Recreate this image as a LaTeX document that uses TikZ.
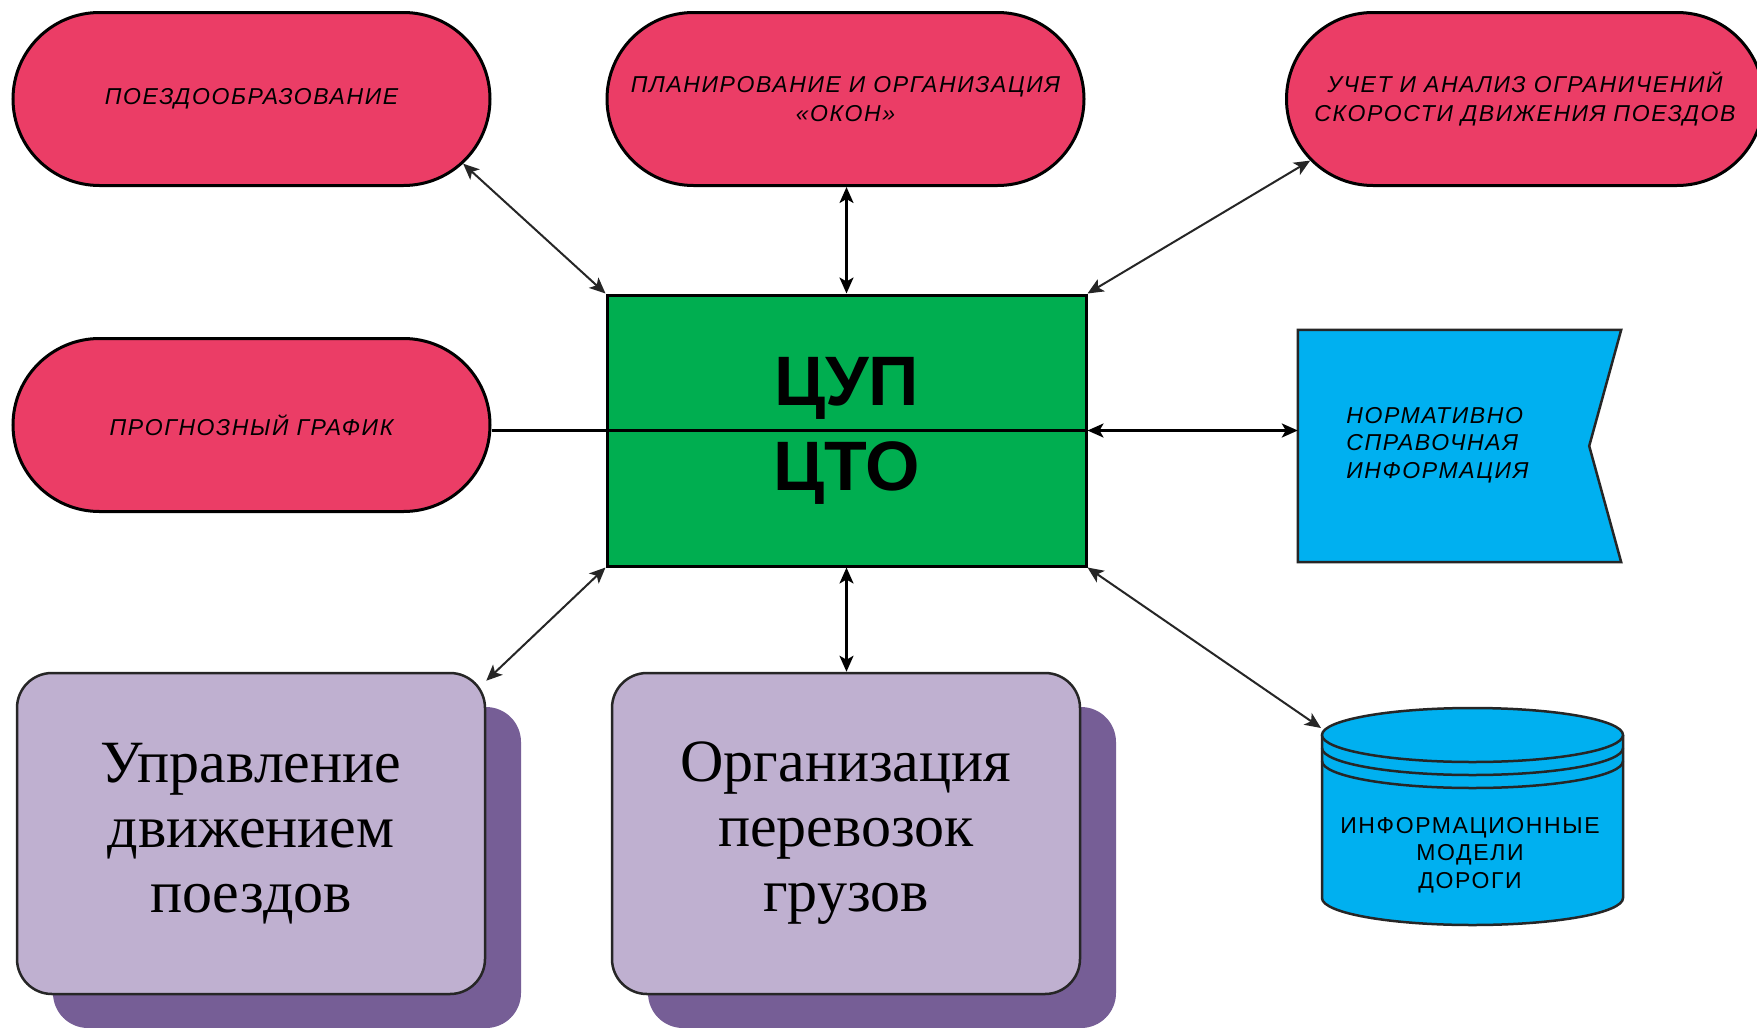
\documentclass[tikz,border=0pt]{standalone}
\usepackage{fontspec}
\setmainfont{Liberation Serif}
\newfontfamily\sanssp[LetterSpace=7]{Liberation Sans}
\newfontfamily\sansplain{Liberation Sans}
\usetikzlibrary{shapes.misc,arrows.meta,shadows}
\definecolor{pinkc}{RGB}{235,61,102}
\definecolor{greenc}{RGB}{0,174,80}
\definecolor{bluec}{RGB}{0,176,240}
\definecolor{lavc}{RGB}{191,176,208}
\definecolor{shadc}{RGB}{118,94,150}
\begin{document}
\begin{tikzpicture}[x=1pt,y=-1pt,
  stadium/.style={rounded rectangle, draw=black, line width=3pt, fill=pinkc,
    minimum width=477pt, minimum height=173pt, inner sep=0pt, align=center,
    font=\sanssp\itshape\fontsize{23}{29}\selectfont},
  cupbox/.style={rectangle, draw=black, line width=3pt, fill=greenc,
    minimum width=479pt, minimum height=271pt, inner sep=0pt, align=center,
    font=\sansplain\bfseries\fontsize{70}{85}\selectfont},
  pbox/.style={rectangle, draw=black!85, line width=2.5pt, fill=lavc,
    rounded corners=35pt, minimum width=468pt, minimum height=321pt,
    inner sep=0pt, align=center, font=\fontsize{60}{65}\selectfont,
    drop shadow={shadow xshift=36pt, shadow yshift=-34pt, fill=shadc, opacity=1}},
  bluebody/.style={fill=bluec, draw=black!85, line width=2.5pt, line join=miter},
  link/.style={<->, >={Stealth[length=16pt,width=14pt,inset=4pt]}, line width=2pt, draw=black!85},
  smalltxt/.style={font=\sanssp\fontsize{23}{27.5}\selectfont, align=center}
]
\fill[white] (0,0) rectangle (1757,1028);
\useasboundingbox (0,0) rectangle (1757,1028);

% pink stadiums
\node[stadium] (tl) at (251.5,99) {ПОЕЗДООБРАЗОВАНИЕ};
\node[stadium] (tm) at (845.5,99) {ПЛАНИРОВАНИЕ И ОРГАНИЗАЦИЯ\\«ОКОН»};
\node[stadium] (tr) at (1525,99) {УЧЕТ И АНАЛИЗ ОГРАНИЧЕНИЙ\\СКОРОСТИ ДВИЖЕНИЯ ПОЕЗДОВ};
\node[stadium] (ml) at (251.5,425) {ПРОГНОЗНЫЙ ГРАФИК};

% central box
\node[cupbox] (cup) at (846.5,430.5) {ЦУП\\ЦТО};

% flag (document) shape
\node[minimum width=323pt, minimum height=232pt, inner sep=0pt] (flag) at (1459.5,446) {};
\draw[bluebody] (flag.north west) -- (flag.north east) -- ([xshift=-32pt]flag.east)
  -- (flag.south east) -- (flag.south west) -- cycle;
\node[anchor=west, align=left, font=\sanssp\itshape\fontsize{23}{27.5}\selectfont]
  (flagtxt) at ([xshift=45pt,yshift=1pt]flag.west) {НОРМАТИВНО\\СПРАВОЧНАЯ\\ИНФОРМАЦИЯ};

% cylinder
\path[fill=bluec] (1322,735) -- (1322,898)
  arc[start angle=180, end angle=0, x radius=150.5, y radius=27] -- (1623,735) -- cycle;
\draw[draw=black!85, line width=2.5pt] (1322,735) -- (1322,898)
  arc[start angle=180, end angle=0, x radius=150.5, y radius=27] -- (1623,735);
\draw[bluebody] (1472.5,735) ellipse[x radius=150.5, y radius=27];
\draw[draw=black!85, line width=2.5pt] (1322,748)
  arc[start angle=180, end angle=0, x radius=150.5, y radius=27];
\draw[draw=black!85, line width=2.5pt] (1322,761)
  arc[start angle=180, end angle=0, x radius=150.5, y radius=27];
\node[smalltxt] (dbt) at (1470,855) {ИНФОРМАЦИОННЫЕ\\МОДЕЛИ\\ДОРОГИ};
\coordinate (dbin) at (1321,728);

% purple boxes
\node[pbox] (cl) at (251,833.5) {\raisebox{-5pt}{\parbox{400pt}{\centering Управление\\движением\\поездов}}};
\node[pbox] (cm) at (846,833.5) {\raisebox{-5pt}{\parbox{400pt}{\centering Организация\\перевозок\\грузов}}};

% connectors
\draw[link] (tl.-17) -- (cup.north west);
\draw[link, line width=2.5pt, draw=black] (cup.north) -- (cup.north |- tm.south);
\draw[link] (tr.196) -- (cup.north east);
\draw[line width=2.5pt, draw=black] (ml.east |- cup.east) -- (cup.east);
\draw[link, line width=2.5pt, draw=black] (cup.east) -- (flag.west |- cup.east);
\draw[link] (cup.south west) -- (cl.33);
\draw[link, line width=2.5pt, draw=black] (cup.south) -- (cup.south |- cm.north);
\draw[link] (cup.south east) -- (dbin);
\end{tikzpicture}
\end{document}
